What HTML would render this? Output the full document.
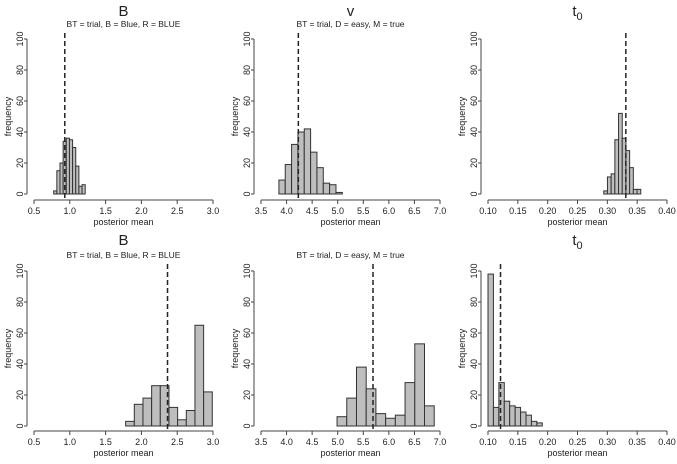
<!DOCTYPE html>
<html><head><meta charset="utf-8"><style>
body{margin:0;background:#fff;font-family:"Liberation Sans",sans-serif}
svg text{font-family:"Liberation Sans",sans-serif;fill:#222}
</style></head><body>
<svg id="c" width="677" height="459" xmlns="http://www.w3.org/2000/svg"></svg>
<script>
const titles=["B","v","t0","B","","t0"];
const subtitles=["BT = trial, B = Blue, R = BLUE","BT = trial, D = easy, M = true","","BT = trial, B = Blue, R = BLUE","BT = trial, D = easy, M = true",""];
const xTicks1=[0.5,1.0,1.5,2.0,2.5,3.0];
const xTicks2=[3.5,4.0,4.5,5.0,5.5,6.0,6.5,7.0];
const xTicks3=[0.10,0.15,0.20,0.25,0.30,0.35,0.40];
const yTicks=[0,20,40,60,80,100];
const binStarts=[0.775,3.85,0.294,1.78,4.987,0.1];
const binWidths=[0.044,0.124,0.0062,0.121,0.19,0.0091];
const counts0=[2,15,20,34,36,35,30,18,5,6];
const counts1=[9,19,32,40,42,27,17,7,6,1];
const counts2=[2,11,13,35,52,36,28,17,3,3];
const counts3=[3,14,18,26,26,12,4,10,65,22];
const counts4=[6,18,38,24,8,5,7,28,53,13];
const counts5=[98,12,28,16,13,12,9,7,3,2];
const dashedX=[0.93,4.23,0.331,2.365,5.69,0.121];

const svg=document.getElementById('c');
const NS="http://www.w3.org/2000/svg";
function mk(tag,attrs,parent){const e=document.createElementNS(NS,tag);for(const k in attrs)e.setAttribute(k,attrs[k]);(parent||svg).appendChild(e);return e;}
const allCounts=[counts0,counts1,counts2,counts3,counts4,counts5];
const tickSets=[xTicks1,xTicks2,xTicks3];
for(let p=0;p<6;p++){
  const col=p%3,row=Math.floor(p/3);
  const ticks=tickSets[col];
  const x0=34+227*col,x1=213+227*col;
  const y0=row?426:194,y100=row?271:39,axY=row?431:200;
  const xmin=ticks[0],xmax=ticks[ticks.length-1];
  const sx=v=>x0+(v-xmin)/(xmax-xmin)*(x1-x0);
  const sy=v=>y0+(v/100)*(y100-y0);
  const g=mk('g',{});
  
  
  if(titles[p]){
    const t=mk('text',{x:(x0+x1)/2,y:row?245:16,'text-anchor':'middle','font-size':15},g);
    
    
    if(titles[p]==='t0'){t.textContent='t';const s=mk('tspan',{'font-size':11,dy:4},t);s.textContent='0';}
    else t.textContent=titles[p];
  }
  if(subtitles[p]){
    const t=mk('text',{x:(x0+x1)/2,y:row?258:27,'text-anchor':'middle','font-size':8.5},g);
    
    
    t.textContent=subtitles[p];
  }
  const cs=allCounts[p];
  for(let i=0;i<cs.length;i++){
    const a=binStarts[p]+i*binWidths[p],b=a+binWidths[p];
    const r=mk('rect',{x:sx(a),y:sy(cs[i]),width:sx(b)-sx(a),height:sy(0)-sy(cs[i]),fill:'#bebebe',stroke:'#333','stroke-width':1},g);
    
    
  }
  const d=mk('line',{x1:sx(dashedX[p]),x2:sx(dashedX[p]),y1:row?264:33,y2:axY-1,stroke:'#222','stroke-width':1.5,'stroke-dasharray':'5,3'},g);
  
  
  const xa=mk('g',{},g);
  
  
  mk('line',{x1:x0,x2:x1,y1:axY,y2:axY,stroke:'#444'},xa);
  ticks.forEach(v=>{
    mk('line',{x1:sx(v),x2:sx(v),y1:axY,y2:axY+4,stroke:'#444'},xa);
    const t=mk('text',{x:sx(v),y:axY+14,'text-anchor':'middle','font-size':9},xa);
    t.textContent=col===2?v.toFixed(2):v.toFixed(1);
  });
  const xl=mk('text',{x:(x0+x1)/2,y:axY+25,'text-anchor':'middle','font-size':9},g);
  
  
  xl.textContent='posterior mean';
  const yx=27+227*col;
  const ya=mk('g',{},g);
  
  
  mk('line',{x1:yx,x2:yx,y1:sy(0),y2:sy(100),stroke:'#444'},ya);
  yTicks.forEach(v=>{
    mk('line',{x1:yx-3,x2:yx,y1:sy(v),y2:sy(v),stroke:'#444'},ya);
    const t=mk('text',{x:yx-4,y:sy(v),'text-anchor':'middle','font-size':9,transform:`rotate(-90 ${yx-4} ${sy(v)})`},ya);
    t.textContent=v;
  });
  const lx=11+227*col,ly=(sy(0)+sy(100))/2;
  const yl=mk('text',{x:lx,y:ly,'text-anchor':'middle','font-size':9,transform:`rotate(-90 ${lx} ${ly})`},g);
  
  
  yl.textContent='frequency';
}
</script>
</body></html>
